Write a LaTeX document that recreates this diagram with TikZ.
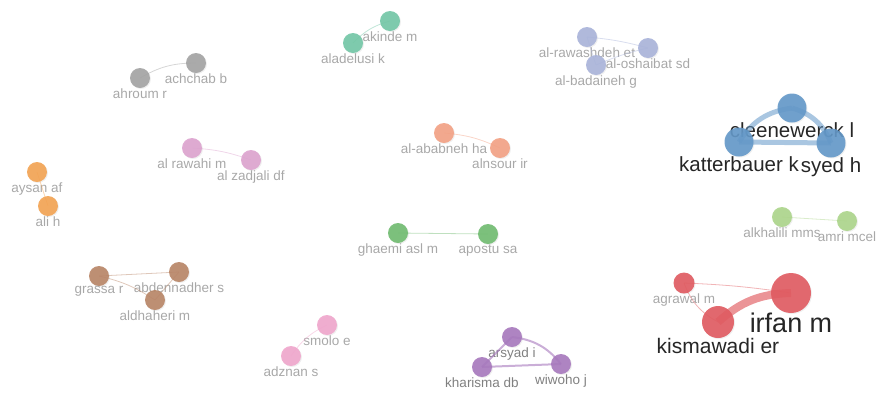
\documentclass[tikz,border=0pt]{standalone}
\usepackage{fontspec}
\setmainfont{Liberation Sans}
\usetikzlibrary{shadows}

\definecolor{cgray}{HTML}{A3A3A3}
\definecolor{cteal}{HTML}{72C6A6}
\definecolor{clav}{HTML}{A9B3DA}
\definecolor{csteel}{HTML}{6398C8}
\definecolor{corange}{HTML}{F3A352}
\definecolor{cpinka}{HTML}{DDA3CF}
\definecolor{csalmon}{HTML}{F3A184}
\definecolor{cgreen}{HTML}{70BB70}
\definecolor{clime}{HTML}{ACD58B}
\definecolor{cbrown}{HTML}{B88566}
\definecolor{cpinkb}{HTML}{F0A6CC}
\definecolor{cpurple}{HTML}{A778BD}
\definecolor{cred}{HTML}{E05A60}
\definecolor{ctext}{HTML}{A8A8A8}

\begin{document}
\begin{tikzpicture}[x=1pt, y=-1pt,
    au/.style={circle, fill=#1, inner sep=0pt, minimum size=20pt, fill opacity=0.9,
        drop shadow={opacity=0.12, shadow xshift=1pt, shadow yshift=-1pt}},
    lbl/.style={text=ctext, inner sep=0pt, font=\fontsize{13.5}{14}\selectfont},
    dark/.style={text=black!85, inner sep=0pt},
    lnk/.style={draw=#1, line width=0.8pt, draw opacity=0.45},
    every label/.style={label distance=0pt}
]
\useasboundingbox (0,0) rectangle (877,392);

% small clusters
\node[au=cgray, label={[lbl]below:achchab b}] (achchab) at (196,63) {};
\node[au=cgray, label={[lbl]below:ahroum r}] (ahroum) at (140,78) {};
\node[au=cteal, label={[lbl]below:akinde m}] (akinde) at (390,21) {};
\node[au=cteal, label={[lbl]below:aladelusi k}] (aladelusi) at (353,43) {};
\node[au=clav, label={[lbl]below:al-rawashdeh et}] (rawashdeh) at (587,37) {};
\node[au=clav, label={[lbl]below:al-oshaibat sd}] (oshaibat) at (648,48) {};
\node[au=clav, label={[lbl]below:al-badaineh g}] (badaineh) at (596,65) {};
\node[au=corange, label={[lbl]below:aysan af}] (aysan) at (37,172) {};
\node[au=corange, label={[lbl]below:ali h}] (ali) at (48,206) {};
\node[au=cpinka, label={[lbl]below:al rawahi m}] (rawahi) at (192,148) {};
\node[au=cpinka, label={[lbl]below:al zadjali df}] (zadjali) at (251,160) {};
\node[au=csalmon, label={[lbl]below:al-ababneh ha}] (ababneh) at (444,133) {};
\node[au=csalmon, label={[lbl]below:alnsour ir}] (alnsour) at (500,148) {};
\node[au=cgreen, label={[lbl]below:ghaemi asl m}] (ghaemi) at (398,233) {};
\node[au=cgreen, label={[lbl]below:apostu sa}] (apostu) at (488,234) {};
\node[au=clime, label={[lbl]below:alkhalili mms}] (alkhalili) at (782,217) {};
\node[au=clime, label={[lbl]below:amri mcel}] (amri) at (847,221) {};
\node[au=cbrown, label={[lbl]below:grassa r}] (grassa) at (99,276) {};
\node[au=cbrown, label={[lbl]below:abdennadher s}] (abdennadher) at (179,272) {};
\node[au=cbrown, label={[lbl]below:aldhaheri m}] (aldhaheri) at (155,300) {};
\node[au=cpinkb, label={[lbl]below:smolo e}] (smolo) at (327,325) {};
\node[au=cpinkb, label={[lbl]below:adznan s}] (adznan) at (291,356) {};
\node[au=cpurple, label={[lbl, text=black!50]below:arsyad i}] (arsyad) at (512,337) {};
\node[au=cpurple, label={[lbl, text=black!50]below:kharisma db}] (kharisma) at (482,367) {};
\node[au=cpurple, label={[lbl, text=black!50]below:wiwoho j}] (wiwoho) at (561,364) {};

% large clusters
\node[au=csteel, minimum size=29pt, label={[dark, font=\fontsize{20.5}{21}\selectfont]below:cleenewerck l}] (cleenewerck) at (792,108) {};
\node[au=csteel, minimum size=29pt, label={[dark, font=\fontsize{20.5}{21}\selectfont]below:katterbauer k}] (katterbauer) at (739,142) {};
\node[au=csteel, minimum size=29pt, label={[dark, font=\fontsize{20.5}{21}\selectfont]below:syed h}] (syed) at (831,143) {};
\node[au=cred, minimum size=21pt, label={[lbl]below:agrawal m}] (agrawal) at (684,283) {};
\node[au=cred, minimum size=40pt, label={[dark, font=\fontsize{27}{28}\selectfont]below:irfan m}] (irfan) at (791,293) {};
\node[au=cred, minimum size=32pt, label={[dark, font=\fontsize{21}{22}\selectfont]below:kismawadi er}] (kismawadi) at (718,322) {};

% links
\draw[lnk=cgray] (ahroum.center) to[bend left=15] (achchab.center);
\draw[lnk=cteal] (aladelusi.center) to[bend left=15] (akinde.center);
\draw[lnk=clav] (rawashdeh.center) to[bend left=5] (oshaibat.center);
\draw[lnk=clav] (badaineh.center) to[bend left=5] (oshaibat.center);
\draw[lnk=clav] (rawashdeh.center) -- (badaineh.center);
\draw[lnk=corange] (aysan.center) -- (ali.center);
\draw[lnk=cpinka] (rawahi.center) to[bend left=8] (zadjali.center);
\draw[lnk=csalmon] (ababneh.center) to[bend left=10] (alnsour.center);
\draw[lnk=cgreen] (ghaemi.center) -- (apostu.center);
\draw[lnk=clime] (alkhalili.center) -- (amri.center);
\draw[lnk=cbrown] (grassa.center) -- (abdennadher.center);
\draw[lnk=cbrown] (grassa.center) to[bend left=10] (aldhaheri.center);
\draw[lnk=cbrown] (aldhaheri.center) -- (abdennadher.center);
\draw[lnk=cpinkb] (adznan.center) to[bend left=15] (smolo.center);
\draw[lnk=cpurple, line width=2pt, draw opacity=0.6] (arsyad.center) to[bend left=22] (wiwoho.center);
\draw[lnk=cpurple, line width=2pt, draw opacity=0.6] (kharisma.center) -- (arsyad.center);
\draw[lnk=cpurple, line width=2pt, draw opacity=0.6] (kharisma.center) -- (wiwoho.center);
\draw[lnk=csteel, line width=5pt, draw opacity=0.55] (katterbauer.center) to[bend left=25] (cleenewerck.center);
\draw[lnk=csteel, line width=5pt, draw opacity=0.55] (cleenewerck.center) to[bend left=25] (syed.center);
\draw[lnk=csteel, line width=5pt, draw opacity=0.55] (katterbauer.center) -- (syed.center);
\draw[lnk=cred] (agrawal.center) to[bend left=3] (irfan.center);
\draw[lnk=cred] (kismawadi.center) to[bend left=20] (agrawal.center);
\draw[lnk=cred, line width=8pt, draw opacity=0.65] (kismawadi.center) to[bend left=20] (irfan.center);
\end{tikzpicture}
\end{document}
